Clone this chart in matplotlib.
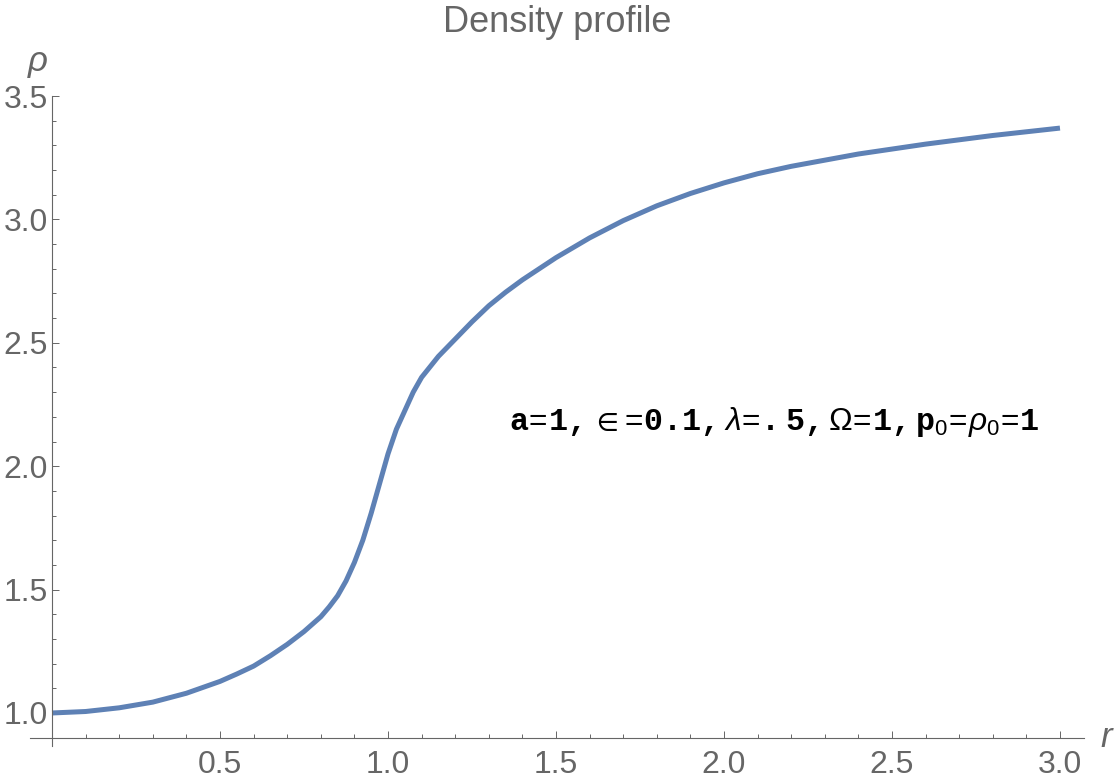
import matplotlib
matplotlib.use("Agg")
import matplotlib.pyplot as plt
from matplotlib.ticker import MultipleLocator

# values
r = [0.0, 0.1, 0.2, 0.3, 0.4, 0.5, 0.55, 0.6, 0.65, 0.7, 0.75, 0.8,
     0.825, 0.85, 0.875, 0.9, 0.925, 0.95, 0.975, 1.0, 1.025, 1.05,
     1.075, 1.1, 1.15, 1.2, 1.25, 1.3, 1.35, 1.4, 1.5, 1.6, 1.7, 1.8,
     1.9, 2.0, 2.1, 2.2, 2.4, 2.6, 2.8, 3.0]
rho = [1.0, 1.006, 1.021, 1.044, 1.080, 1.128, 1.158, 1.19, 1.232, 1.278,
       1.33, 1.39, 1.43, 1.475, 1.535, 1.61, 1.70, 1.81, 1.93, 2.05, 2.15,
       2.225, 2.30, 2.36, 2.445, 2.515, 2.585, 2.65, 2.705, 2.755, 2.845,
       2.925, 2.995, 3.055, 3.105, 3.148, 3.185, 3.215, 3.265, 3.305,
       3.34, 3.37]

xticks = [0.5, 1.0, 1.5, 2.0, 2.5, 3.0]
yticks = [1.0, 1.5, 2.0, 2.5, 3.0, 3.5]

grey = "#666666"
blue = "#5E81B5"

plt.rcParams["font.family"] = ["Liberation Sans", "DejaVu Sans"]
plt.rcParams["mathtext.fontset"] = "custom"
plt.rcParams["mathtext.tt"] = "Liberation Mono:bold"
plt.rcParams["mathtext.rm"] = "Liberation Sans"
plt.rcParams["mathtext.it"] = "Liberation Sans:italic"
plt.rcParams["mathtext.fallback"] = "stixsans"

fig = plt.figure(figsize=(11.2, 7.83), dpi=100)
W, H = 1120, 783
# axes box in pixels: x -0.065..3.07, y 0.865..3.5
left, right = 30.2, 1083.5
top, bottom = 96.0, 746.3
ax = fig.add_axes([left / W, 1 - bottom / H, (right - left) / W, (bottom - top) / H])
ax.set_xlim(-0.065, 3.07)
ax.set_ylim(0.865, 3.5)

ax.plot(r, rho, color=blue, lw=3.6, solid_capstyle="butt", solid_joinstyle="round")

for s in ["top", "right"]:
    ax.spines[s].set_visible(False)
ax.spines["left"].set_position(("data", 0))
ax.spines["bottom"].set_position(("data", 0.9))
for s in ["left", "bottom"]:
    ax.spines[s].set_color(grey)
    ax.spines[s].set_linewidth(0.8)

ax.set_xticks(xticks)
ax.set_yticks(yticks)
ax.set_xticklabels([f"{v:.1f}" for v in xticks])
ax.set_yticklabels([f"{v:.1f}" for v in yticks])
ax.xaxis.set_minor_locator(MultipleLocator(0.1))
ax.yaxis.set_minor_locator(MultipleLocator(0.1))
ax.tick_params(which="both", direction="in", color=grey, labelcolor=grey,
               labelsize=23, width=0.7)
ax.tick_params(which="major", length=5)
ax.tick_params(which="minor", length=2.8)
ax.tick_params(axis="x", pad=9)
ax.tick_params(axis="y", pad=3)

ax.set_title("Density profile", color=grey, fontsize=26, pad=46)
ax.text(-0.01, 3.63, r"$\rho$", color=grey, fontsize=25, ha="right", va="center")
ax.text(3.12, 0.9, "r", color=grey, fontsize=25, ha="left", va="center",
        style="italic")

label = (r"$\mathtt{a}\!\mathrm{=}\!\mathtt{1,}\in\!\mathrm{=}\!\mathtt{0.1,}"
         r"\lambda\!\mathrm{=}\!\mathtt{.5,}\Omega\!\mathrm{=}\!\mathtt{1,}"
         r"\mathtt{p}_{\mathrm{0}}\!\mathrm{=}\!\rho_{\mathrm{0}}\!\mathrm{=}\!\mathtt{1}$")
ax.text(1.36, 2.18, label, color="black", fontsize=22.8, ha="left", va="center")

fig.savefig("out.png", dpi=100)
